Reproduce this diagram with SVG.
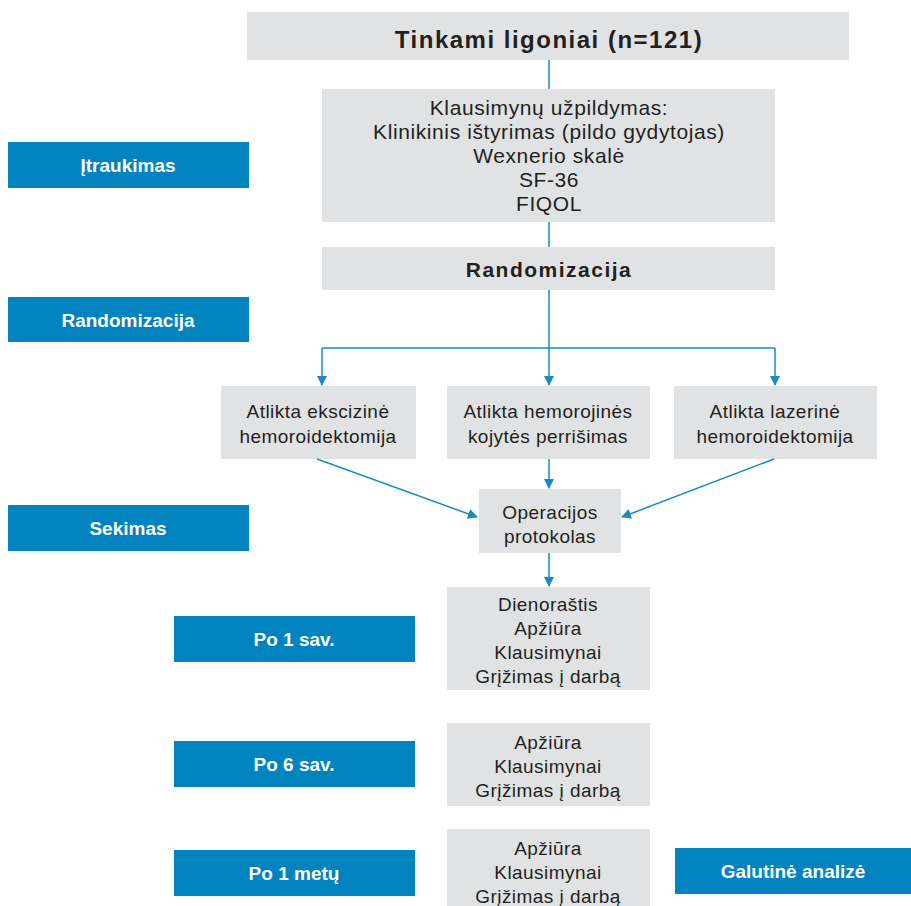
<svg xmlns="http://www.w3.org/2000/svg" width="911" height="906" viewBox="0 0 911 906">
<style>
.g{fill:#e1e2e4}
.b{fill:#0083be}
.t{font-family:"Liberation Sans",Arial,sans-serif;font-size:21px;letter-spacing:0.6px;fill:#231f20;text-anchor:middle}
.s{font-size:19px;letter-spacing:0.45px}
.h{font-weight:bold;font-size:24px;letter-spacing:1.5px}
.r{font-weight:bold;font-size:21px;letter-spacing:1.5px}
.w{font-family:"Liberation Sans",Arial,sans-serif;font-size:19px;font-weight:bold;fill:#ffffff;text-anchor:middle}
.c{stroke:#1a8ac4;stroke-width:1.5;fill:none}
</style>
<defs>
<marker id="a" markerWidth="10" markerHeight="12" refX="9" refY="5" orient="auto" markerUnits="userSpaceOnUse" viewBox="0 0 10 10">
<path d="M0,0 L10,5 L0,10 Z" fill="#1a8ac4"/>
</marker>
</defs>
<rect width="911" height="906" fill="#ffffff"/>
<g id="n-top"><rect class="g" x="247" y="12" width="602" height="48"/><text class="t h" x="549" y="48">Tinkami ligoniai (n=121)</text></g>
<g id="n-klaus"><rect class="g" x="322" y="89" width="453" height="133"/>
<text class="t" x="549" y="115">Klausimynų užpildymas:</text>
<text class="t" x="549" y="139">Klinikinis ištyrimas (pildo gydytojas)</text>
<text class="t" x="549" y="163">Wexnerio skalė</text>
<text class="t" x="549" y="187">SF-36</text>
<text class="t" x="549" y="211">FIQOL</text></g>
<g id="n-rand"><rect class="g" x="322" y="247" width="453" height="43"/><text class="t r" x="549" y="277">Randomizacija</text></g>
<g id="n-eks"><rect class="g" x="221" y="386" width="195" height="73"/><text class="t s" x="318" y="418">Atlikta ekscizinė</text><text class="t s" x="318" y="443">hemoroidektomija</text></g>
<g id="n-hem"><rect class="g" x="447" y="386" width="203" height="73"/><text class="t s" x="548" y="418">Atlikta hemorojinės</text><text class="t s" x="548" y="443">kojytės perrišimas</text></g>
<g id="n-laz"><rect class="g" x="674" y="386" width="203" height="73"/><text class="t s" x="775" y="418">Atlikta lazerinė</text><text class="t s" x="775" y="443">hemoroidektomija</text></g>
<g id="n-op"><rect class="g" x="479" y="489" width="142" height="64"/><text class="t s" x="550" y="519">Operacijos</text><text class="t s" x="550" y="543">protokolas</text></g>
<g id="n-d1"><rect class="g" x="447" y="587" width="203" height="103"/>
<text class="t s" x="548" y="611">Dienoraštis</text><text class="t s" x="548" y="635">Apžiūra</text><text class="t s" x="548" y="659">Klausimynai</text><text class="t s" x="548" y="683">Grįžimas į darbą</text></g>
<g id="n-d6"><rect class="g" x="447" y="723" width="203" height="83"/>
<text class="t s" x="548" y="749">Apžiūra</text><text class="t s" x="548" y="773">Klausimynai</text><text class="t s" x="548" y="797">Grįžimas į darbą</text></g>
<g id="n-d12"><rect class="g" x="447" y="829" width="203" height="80"/>
<text class="t s" x="548" y="855">Apžiūra</text><text class="t s" x="548" y="879">Klausimynai</text><text class="t s" x="548" y="903">Grįžimas į darbą</text></g>
<g id="l-itr"><rect class="b" x="8" y="142" width="241" height="46"/><text class="w" x="128" y="172">Įtraukimas</text></g>
<g id="l-rand"><rect class="b" x="8" y="297" width="241" height="45"/><text class="w" x="128" y="327">Randomizacija</text></g>
<g id="l-sek"><rect class="b" x="8" y="505" width="241" height="46"/><text class="w" x="128" y="535">Sekimas</text></g>
<g id="l-1s"><rect class="b" x="174" y="616" width="241" height="46"/><text class="w" x="294" y="646">Po 1 sav.</text></g>
<g id="l-6s"><rect class="b" x="174" y="741" width="241" height="46"/><text class="w" x="294" y="771">Po 6 sav.</text></g>
<g id="l-1m"><rect class="b" x="174" y="850" width="241" height="46"/><text class="w" x="294" y="880">Po 1 metų</text></g>
<g id="l-gal"><rect class="b" x="675" y="848" width="236" height="46"/><text class="w" x="793" y="878">Galutinė analizė</text></g>
<g id="connectors">
<path class="c" d="M549,60 V89"/>
<path class="c" d="M549,222 V247"/>
<path class="c" d="M549,290 V385" marker-end="url(#a)"/>
<path class="c" d="M322,348 H775"/>
<path class="c" d="M322,348 V385" marker-end="url(#a)"/>
<path class="c" d="M775,348 V385" marker-end="url(#a)"/>
<path class="c" d="M317,459 L477,517" marker-end="url(#a)"/>
<path class="c" d="M549,459 V488" marker-end="url(#a)"/>
<path class="c" d="M774,459 L622,517" marker-end="url(#a)"/>
<path class="c" d="M549,553 V586" marker-end="url(#a)"/>
</g>
</svg>
